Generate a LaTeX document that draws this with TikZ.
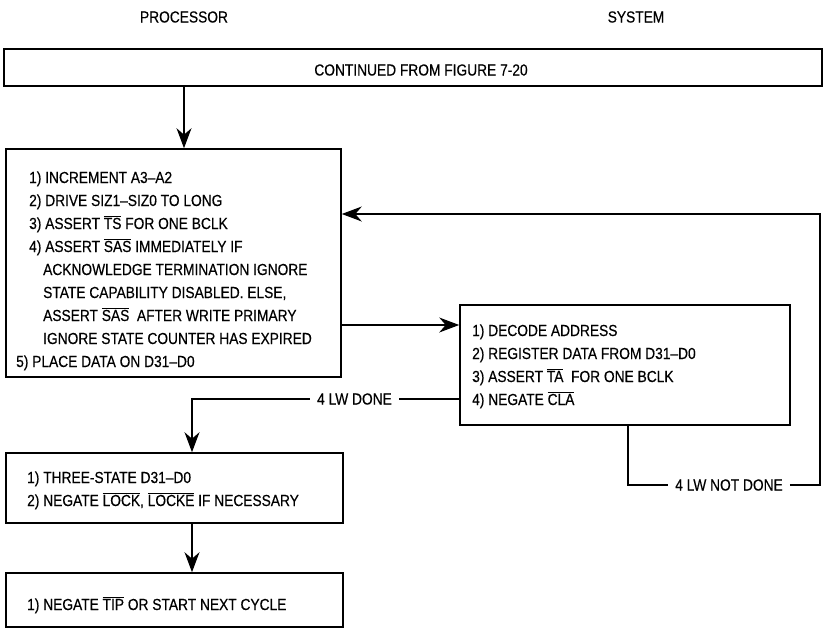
\documentclass[tikz,border=0pt]{standalone}
\usepackage{fontspec}
\setmainfont{Liberation Sans}[FakeStretch=0.86,FakeBold=0.4]
\usetikzlibrary{arrows.meta}
\newcommand{\ovl}[1]{$\overline{\mbox{#1}}$}
\begin{document}
\begin{tikzpicture}[x=1pt,y=-1pt,
  flowbox/.style={draw, line width=1.6pt, inner sep=0pt, rectangle},
  txt/.style={anchor=base west, inner sep=0pt, font=\fontsize{16}{19}\selectfont},
  ttl/.style={inner sep=0pt, font=\fontsize{16}{19}\selectfont},
  lbl/.style={inner xsep=7pt, inner ysep=0pt, font=\fontsize{16}{19}\selectfont},
  conn/.style={line width=1.1pt},
  arr/.style={conn, -{Stealth[length=20pt,width=15pt,inset=6.5pt]}}]
\useasboundingbox (0,0) rectangle (825,629);
% column titles
\node[ttl] (proc) at (184,17) {PROCESSOR};
\node[ttl] (sysh) at (636,17) {SYSTEM};
% header
\node[flowbox, minimum width=818pt, minimum height=37pt] (hdr) at (413,67.5) {};
\node[ttl] (hdrt) at (421,70) {CONTINUED FROM FIGURE 7-20};
% processor box 1
\node[flowbox, minimum width=335pt, minimum height=228pt] (b1) at (173.5,263) {};
\node[txt] (b1l1) at (29,183) {1) INCREMENT A3–A2};
\node[txt] (b1l2) at (29,206) {2) DRIVE SIZ1–SIZ0 TO LONG};
\node[txt] (b1l3) at (29,229) {3) ASSERT \ovl{TS} FOR ONE BCLK};
\node[txt] (b1l4) at (29,252) {4) ASSERT \ovl{SAS} IMMEDIATELY IF};
\node[txt] (b1l5) at (43,275) {ACKNOWLEDGE TERMINATION IGNORE};
\node[txt] (b1l6) at (43,298) {STATE CAPABILITY DISABLED. ELSE,};
\node[txt] (b1l7) at (43,321) {ASSERT \ovl{SAS}\ \ AFTER WRITE PRIMARY};
\node[txt] (b1l8) at (43,344) {IGNORE STATE COUNTER HAS EXPIRED};
\node[txt] (b1l9) at (16,367) {5) PLACE DATA ON D31–D0};
% system box
\node[flowbox, minimum width=330pt, minimum height=120pt] (sys) at (625,365) {};
\node[txt] (s1) at (472,336) {1) DECODE ADDRESS};
\node[txt] (s2) at (472,359) {2) REGISTER DATA FROM D31–D0};
\node[txt] (s3) at (472,382) {3) ASSERT \ovl{TA}\ \ FOR ONE BCLK};
\node[txt] (s4) at (472,405) {4) NEGATE \ovl{CLA}};
% processor box 2
\node[flowbox, minimum width=337pt, minimum height=70pt] (b2) at (174.5,488) {};
\node[txt] (b2l1) at (27,483) {1) THREE-STATE D31–D0};
\node[txt] (b2l2) at (27,506) {2) NEGATE \ovl{LOCK}, \ovl{LOCKE} IF NECESSARY};
% processor box 3
\node[flowbox, minimum width=337pt, minimum height=54pt] (b3) at (174.5,600) {};
\node[txt] (b3l1) at (27,610) {1) NEGATE \ovl{TIP} OR START NEXT CYCLE};
% labels
\node[lbl] (dn) at (354.5,399) {4 LW DONE};
\node[lbl] (nd) at (729,485) {4 LW NOT DONE};
% helper coordinates
\coordinate (ax) at (192,0);
\coordinate (a2) at (0,325);
\coordinate (fbc) at (820,214);
\coordinate (nc) at (628,0);
% connectors
\draw[arr] (hdr.south -| proc) -- (b1.north -| proc);
\draw[arr] (b1.east |- a2) -- (sys.west |- a2);
\draw[conn] (sys.west |- dn) -- (dn.east);
\draw[arr] (dn.west) -| (b2.north -| ax);
\draw[arr] (b2.south -| ax) -- (b3.north -| ax);
\draw[conn] (sys.south -| nc) |- (nd.west);
\draw[arr] (nd.east) -| (fbc) -- (b1.east |- fbc);
\end{tikzpicture}
\end{document}
